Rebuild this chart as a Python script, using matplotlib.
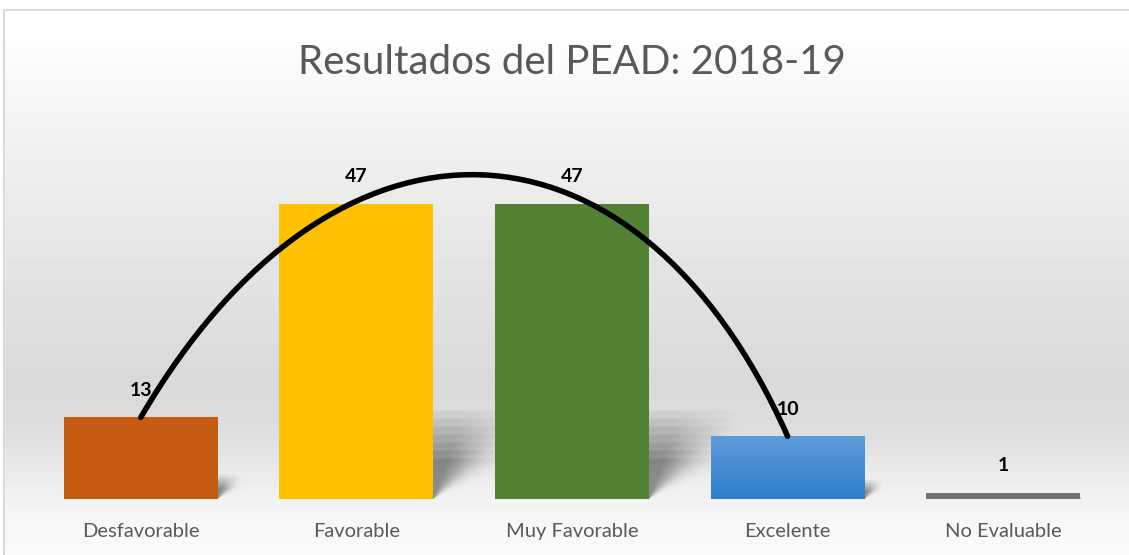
import numpy as np
import matplotlib
matplotlib.use("Agg")
import matplotlib.pyplot as plt
from matplotlib.patches import Polygon, PathPatch, Rectangle
from matplotlib.path import Path
from matplotlib.colors import LinearSegmentedColormap

plt.rcParams['font.family'] = ['Lato', 'DejaVu Sans']

# data
categories = ["Desfavorable", "Favorable", "Muy Favorable", "Excelente", "No Evaluable"]
values = [13, 47, 47, 10, 1]
bar_colors = ["#C55A11", "#FFC000", "#548235", "#4A8FD6", "#767171"]
title = "Resultados del PEAD: 2018-19"

# hand drawn trend arc: from bar 0 top to bar 3 top, bezier control points
arc_start = 0
arc_end = 3
arc_ctrl = [(0.9, 66), (2.3, 64)]

W, H = 1129, 555
fig = plt.figure(figsize=(W / 100, H / 100), dpi=100)

# background gradient over the whole figure
bg = fig.add_axes([0, 0, 1, 1], zorder=-10)
bg.set_axis_off()
stops_y = [0, 40, 120, 250, 380, 430, 480, 510, 555]
stops_v = [255, 254, 243, 229, 217, 221, 236, 245, 250]
rows = np.interp(np.arange(H), stops_y, stops_v) / 255.0
img = np.repeat(rows[:, None], 8, axis=1)
bg.imshow(img, cmap="gray", vmin=0, vmax=1, aspect="auto", extent=[0, W, H, 0])
# white margin + frame
bg.add_patch(Rectangle((0, 0), W, 10, color="white"))
bg.add_patch(Rectangle((0, 0), 4, H, color="white"))
bg.plot([4, W], [10, 10], color="#d9d9d9", lw=1.5)
bg.plot([4, 4], [10, H], color="#d9d9d9", lw=1.5)
bg.set_xlim(0, W)
bg.set_ylim(H, 0)

ax = fig.add_axes([33 / W, 56 / H, 1078 / W, 345.4 / H])
ax.patch.set_alpha(0)
x = np.arange(len(categories))
bw = 0.714

# soft perspective shadows behind the bars (layered for a blur look)
for xi, v in zip(x, values):
    x0, x1 = xi - bw / 2, xi + bw / 2
    for sx in np.linspace(0.5, 1.5, 7):
        for sy in np.linspace(0.6, 1.3, 7):
            dx = 0.0062 * v * sx
            dy = 0.23 * v * sy
            ax.add_patch(Polygon([(x0, 0), (x1, 0), (x1 + dx, dy), (x0 + dx, dy)],
                                 closed=True, facecolor="black", edgecolor="none",
                                 alpha=0.009, zorder=1))

bars = ax.bar(x, values, width=bw, color=bar_colors, zorder=2)

# gradient for the "Excelente" bar
b = bars[3]
grad = np.linspace(0, 1, 100)[:, None]
cm = LinearSegmentedColormap.from_list("blu", ["#2F7DCB", "#5D9CD8"])
gi = ax.imshow(grad, cmap=cm, aspect="auto", origin="lower",
               extent=[b.get_x(), b.get_x() + b.get_width(), 0, b.get_height()], zorder=2.5)
gi.set_clip_path(b)
ax.set_xlim(-0.5, 4.5)
ax.set_ylim(0, 55)

for xi, v in zip(x, values):
    ax.annotate(str(v), (xi, v), xytext=(0, 19.5), textcoords="offset points",
                ha="center", va="center", fontsize=14, fontweight="bold",
                color="black", zorder=5, annotation_clip=False)

# trend arc
verts = [(arc_start, values[arc_start]), arc_ctrl[0], arc_ctrl[1], (arc_end, values[arc_end])]
path = Path(verts, [Path.MOVETO, Path.CURVE4, Path.CURVE4, Path.CURVE4])
ax.add_patch(PathPatch(path, facecolor="none", edgecolor="black", lw=4,
                       capstyle="round", zorder=4, clip_on=False))

ax.set_xticks(x)
ax.set_xticklabels(categories, fontsize=14.5, color="#595959")
ax.tick_params(axis="x", length=0, pad=17)
ax.set_yticks([])
for sp in ax.spines.values():
    sp.set_visible(False)

fig.text(572 / W, 1 - 62 / H, title, ha="center", va="center",
         fontsize=29, color="#595959")

fig.savefig("out.png", dpi=100)
